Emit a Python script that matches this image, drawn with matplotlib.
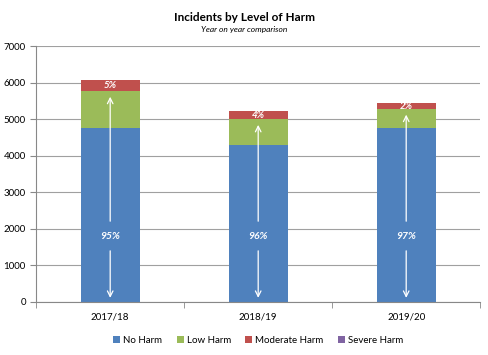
import matplotlib.pyplot as plt
import numpy as np

plt.rcParams['font.family'] = ['Lato', 'DejaVu Sans']

# data
years = ['2017/18', '2018/19', '2019/20']
no_harm = [4760, 4300, 4760]
low_harm = [1010, 700, 520]
moderate_harm = [290, 220, 160]
severe_harm = [10, 8, 6]
no_harm_pct = ['95%', '96%', '97%']
other_pct = ['5%', '4%', '2%']

colors = ['#4F81BD', '#9BBB59', '#C0504D', '#8064A2']
labels = ['No Harm', 'Low Harm', 'Moderate Harm', 'Severe Harm']

fig = plt.figure(figsize=(4.89, 3.55), dpi=100)
ax = fig.add_axes([0.074, 0.15, 0.908, 0.72])

x = np.arange(len(years))
w = 0.4
bottom = np.zeros(len(years))
for vals, c, lab in zip([no_harm, low_harm, moderate_harm, severe_harm], colors, labels):
    ax.bar(x, vals, w, bottom=bottom, color=c, label=lab, zorder=2)
    bottom = bottom + np.array(vals)

# percentages and arrows
for i in range(len(years)):
    top = no_harm[i] + low_harm[i]
    ymid = 1800
    ax.text(x[i], ymid, no_harm_pct[i], color='white', ha='center', va='center',
            fontsize=7.5, fontstyle='italic', fontweight='bold', zorder=4)
    ax.annotate('', xy=(x[i], top - 80), xytext=(x[i], ymid + 330),
                arrowprops=dict(arrowstyle='->', color='white', lw=0.9), zorder=3)
    ax.annotate('', xy=(x[i], 30), xytext=(x[i], ymid - 330),
                arrowprops=dict(arrowstyle='->', color='white', lw=0.9), zorder=3)
    ax.text(x[i], top + moderate_harm[i] / 2, other_pct[i], color='white', ha='center',
            va='center', fontsize=7, fontstyle='italic', fontweight='bold', zorder=4)

ax.set_ylim(0, 7000)
ax.set_xlim(-0.5, 2.5)
ax.set_yticks(range(0, 7001, 1000))
ax.yaxis.grid(True, color='#a0a0a0', lw=0.8, zorder=0)
ax.set_xticks(x)
ax.set_xticklabels(years)
ax.set_xticks([-0.5, 0.5, 1.5, 2.5], minor=True)
ax.tick_params(axis='x', which='major', length=0, pad=8, labelsize=7)
ax.tick_params(axis='x', which='minor', length=4, color='#888888')
ax.tick_params(axis='y', length=4, color='#888888', labelsize=7)
for s in ['top', 'right']:
    ax.spines[s].set_visible(False)
for s in ['left', 'bottom']:
    ax.spines[s].set_color('#888888')

fig.suptitle('Incidents by Level of Harm', x=0.5, y=0.965, fontsize=8.5, fontweight='bold')
fig.text(0.5, 0.91, 'Year on year comparison', ha='center', fontsize=6, fontstyle='italic')

ax.legend(loc='upper center', bbox_to_anchor=(0.5, -0.1), ncol=4, frameon=False,
          fontsize=7, handlelength=0.7, handleheight=0.7, handletextpad=0.3, columnspacing=1.5)

fig.savefig('out.png', dpi=100)
